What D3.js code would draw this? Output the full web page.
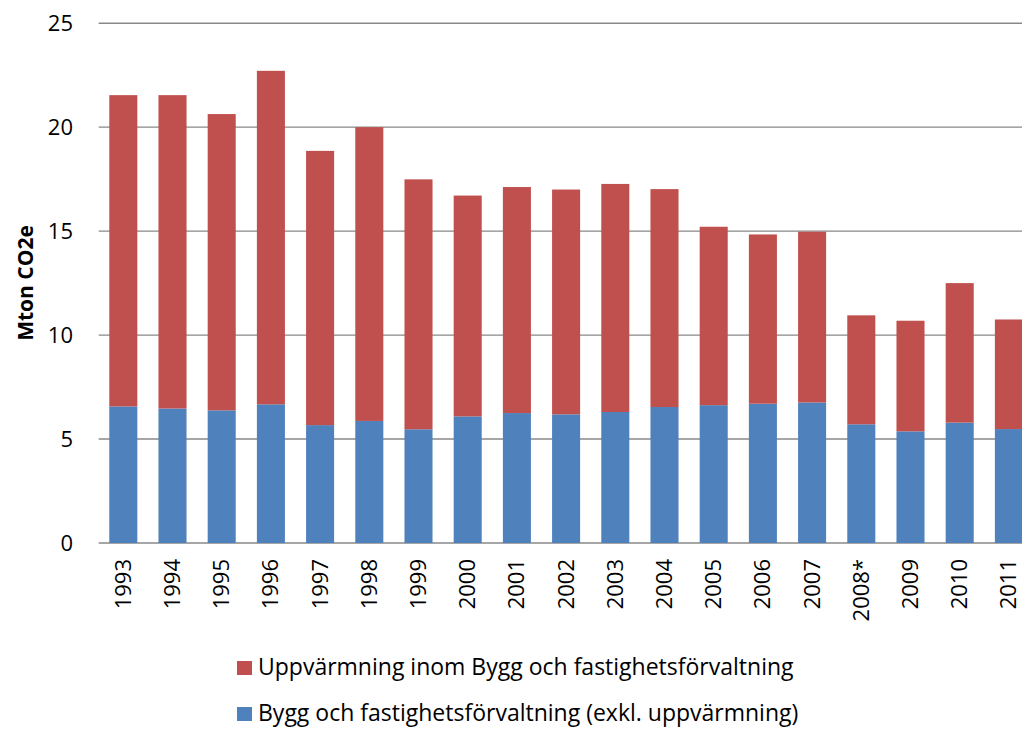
<!DOCTYPE html>
<html>
<head>
<meta charset="utf-8">
<script src="https://d3js.org/d3.v7.min.js"></script>
<style>
  body { margin: 0; background: #fff; }
  svg { display: block; overflow: hidden; }
  text { font-family: "Open Sans", sans-serif; fill: #000; }
</style>
</head>
<body>
<svg width="1022" height="729"></svg>
<script>
    var years = ["1993", "1994", "1995", "1996", "1997", "1998", "1999", "2000", "2001", "2002",
        "2003", "2004", "2005", "2006", "2007", "2008*", "2009", "2010", "2011"];
    // Bygg och fastighetsförvaltning (exkl. uppvärmning)
    var byggValues = [6.57, 6.47, 6.38, 6.67, 5.67, 5.87, 5.47, 6.09, 6.25, 6.19,
        6.30, 6.54, 6.63, 6.70, 6.76, 5.71, 5.37, 5.79, 5.48];
    // Uppvärmning inom Bygg och fastighetsförvaltning
    var uppvValues = [14.97, 15.07, 14.25, 16.04, 13.19, 14.13, 12.02, 10.62, 10.87, 10.81,
        10.97, 10.48, 8.58, 8.14, 8.21, 5.24, 5.32, 6.71, 5.27];
    var yTicks = [0, 5, 10, 15, 20, 25];
    var seriesNames = ["Uppvärmning inom Bygg och fastighetsförvaltning",
        "Bygg och fastighetsförvaltning (exkl. uppvärmning)"];
    var seriesColors = ["#C0504D", "#4F81BD"];

    var svg = d3.select("svg");

    var rows = years.map(function (y, i) {
        return { year: y, bygg: byggValues[i], uppv: uppvValues[i] };
    });
    var stack = d3.stack().keys(["bygg", "uppv"])(rows);

    var x = d3.scaleBand().domain(years).range([98.7, 1033.5])
        .paddingInner(0.43).paddingOuter(0.215);
    var y = d3.scaleLinear().domain([0, 25]).range([543, 23.2]);

    // gridlines
    svg.append("g")
        .selectAll("line")
        .data(yTicks)
        .enter().append("line")
        .attr("x1", 98.7)
        .attr("x2", 1040)
        .attr("y1", function (d) { return y(d); })
        .attr("y2", function (d) { return y(d); })
        .attr("stroke", "#888")
        .attr("stroke-width", 1.4);

    // y tick labels
    svg.append("g")
        .selectAll("text")
        .data(yTicks)
        .enter().append("text")
        .attr("x", 73)
        .attr("y", function (d) { return y(d); })
        .attr("dy", "0.36em")
        .attr("text-anchor", "end")
        .attr("font-size", "22px")
        .text(function (d) { return d; });

    // bars
    var colorByKey = { bygg: seriesColors[1], uppv: seriesColors[0] };
    svg.append("g")
        .selectAll("g")
        .data(stack)
        .enter().append("g")
        .attr("fill", function (s) { return colorByKey[s.key]; })
        .selectAll("rect")
        .data(function (s) { return s; })
        .enter().append("rect")
        .attr("x", function (d) { return x(d.data.year); })
        .attr("y", function (d) { return y(d[1]); })
        .attr("width", x.bandwidth())
        .attr("height", function (d) { return y(d[0]) - y(d[1]); });

    // x tick labels (rotated)
    svg.append("g")
        .selectAll("text")
        .data(years)
        .enter().append("text")
        .attr("transform", function (d) {
            return "translate(" + (x(d) + x.bandwidth() / 2 - 0.5) + ",559) rotate(-90)";
        })
        .attr("dy", "0.36em")
        .attr("text-anchor", "end")
        .attr("font-size", "22px")
        .text(function (d) { return d; });

    // y axis title
    svg.append("text")
        .attr("transform", "translate(33,283) rotate(-90)")
        .attr("text-anchor", "middle")
        .attr("font-size", "21px")
        .attr("font-weight", "bold")
        .text("Mton CO2e");

    // legend
    var legend = svg.append("g")
        .selectAll("g")
        .data(seriesNames)
        .enter().append("g")
        .attr("transform", function (d, i) { return "translate(237," + (661 + i * 46) + ")"; });
    legend.append("rect")
        .attr("width", 15)
        .attr("height", 14)
        .attr("fill", function (d, i) { return seriesColors[i]; });
    legend.append("text")
        .attr("x", 21)
        .attr("y", 14)
        .attr("font-size", "23px")
        .text(function (d) { return d; });
</script>
</body>
</html>
